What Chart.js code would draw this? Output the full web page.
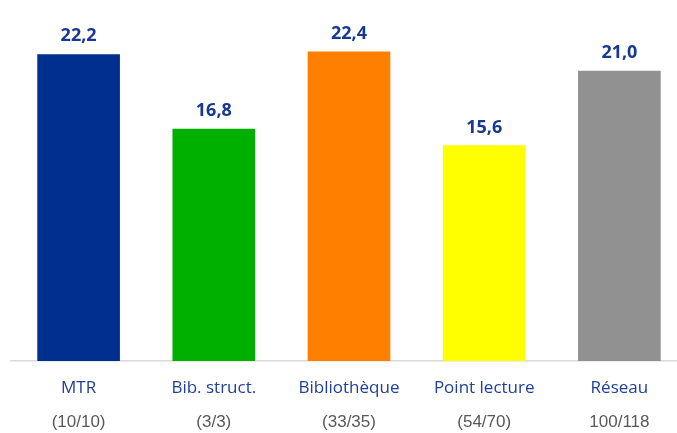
<!DOCTYPE html>
<html>
<head>
<meta charset="utf-8">
<script src="https://cdn.jsdelivr.net/npm/chart.js@4"></script>
<style>
  html, body { margin: 0; padding: 0; background: #fff; overflow: hidden; }
  #outer { width: 677px; height: 433px; overflow: hidden; }
  #wrap { width: 690px; height: 433px; }
</style>
</head>
<body>
<div id="outer"><div id="wrap"><canvas id="myChart"></canvas></div></div>
<script>
'use strict';

const categories = ['MTR', 'Bib. struct.', 'Bibliothèque', 'Point lecture', 'Réseau'];
const counts = ['(10/10)', '(3/3)', '(33/35)', '(54/70)', '100/118'];
const values = [22.2, 16.8, 22.4, 15.6, 21.0];
const barColors = ['#00308f', '#00b000', '#ff8000', '#ffff00', '#919191'];

const ctx = document.getElementById('myChart').getContext('2d');

// value labels on top + two lines of labels under the axis
const labelPlugin = {
  id: 'labelPlugin',
  afterDatasetsDraw(chart) {
    let c = chart.ctx;
    let meta = chart.getDatasetMeta(0);
    let xScale = chart.scales.x;
    c.save();
    c.textAlign = 'center';
    meta.data.forEach(function(bar, i) {
      c.fillStyle = '#17398f';
      c.font = 'bold 18px "Open Sans"';
      c.textBaseline = 'alphabetic';
      c.fillText(values[i].toFixed(1).replace('.', ','), bar.x, bar.y - 13);

      let x = xScale.getPixelForValue(i);
      c.font = '17px "Open Sans"';
      c.fillStyle = '#1f3f99';
      c.textBaseline = 'middle';
      c.fillText(categories[i], x, 388);

      c.font = '17px "Liberation Sans Narrow", "Liberation Sans"';
      c.fillStyle = '#595959';
      c.fillText(counts[i], x, 422);
    });
    c.restore();
  }
};

const myChart = new Chart(ctx, {
  type: 'bar',
  data: {
    labels: categories,
    datasets: [{
      data: values,
      backgroundColor: barColors,
      barThickness: 82
    }]
  },
  options: {
    responsive: true,
    maintainAspectRatio: false,
    devicePixelRatio: 1,
    animation: false,
    layout: {
      padding: { left: 11, right: 3, top: 2, bottom: 64 }
    },
    plugins: {
      legend: { display: false },
      tooltip: { enabled: false }
    },
    scales: {
      x: {
        grid: { display: false },
        border: { color: '#d9d9d9', width: 1.5 },
        ticks: { display: false }
      },
      y: {
        display: false,
        min: 0,
        max: 26
      }
    }
  },
  plugins: [labelPlugin]
});
</script>
</body>
</html>
